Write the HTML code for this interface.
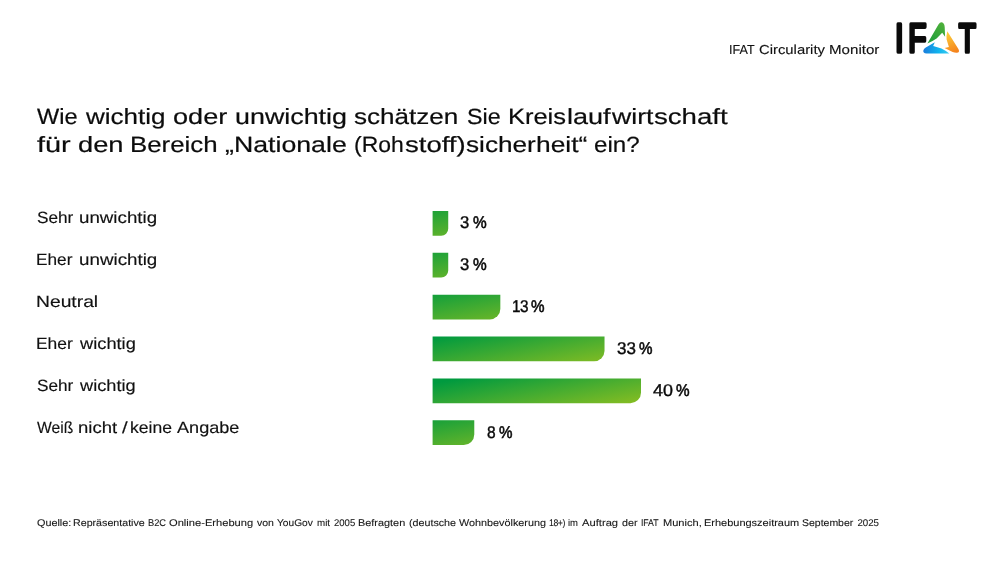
<!DOCTYPE html>
<html lang="de"><head><meta charset="utf-8"><title>IFAT Circularity Monitor</title>
<style>
html,body{margin:0;padding:0;background:#fff}
body{width:1000px;height:563px;position:relative;overflow:hidden;font-family:"Liberation Sans", sans-serif;color:#1a1a1a}
h1,p,header,footer,section,div{margin:0;padding:0;font-weight:400}
.line{display:block}
.t{position:absolute;top:var(--t);white-space:nowrap;line-height:1;display:block;transform-origin:0 0;text-rendering:geometricPrecision}
.title{font-size:22.0px;color:#0c0c0c;-webkit-text-stroke:0.2px #0c0c0c}
.lab{font-size:16.3px;color:#111;-webkit-text-stroke:0.15px #111}
.val{font-size:17.0px;color:#0a0a0a;-webkit-text-stroke:0.4px #0a0a0a}
.pc{-webkit-text-stroke-width:0.6px}
.hdr{font-size:13px;color:#111;-webkit-text-stroke:0.12px #111}
.foot{font-size:9.7px;color:#161616;-webkit-text-stroke:0.1px #161616}
svg{position:absolute;left:0;top:0}
</style></head><body>
<header>
<div class="line hdr" style="--t:43px"><span class="t" style="left:729.39px;transform:scaleX(0.9665)">IFAT</span> <span class="t" style="left:759.30px;transform:scaleX(1.1408)">Circularity</span> <span class="t" style="left:829.06px;transform:scaleX(1.1622)">Monitor</span></div>
<svg width="1000" height="563" viewBox="0 0 1000 563" role="img" aria-label="IFAT">
<g class="logo">
<defs>
<linearGradient id="lgG" gradientUnits="userSpaceOnUse" x1="929" y1="42" x2="944" y2="24"><stop offset="0" stop-color="#1f9e3c"/><stop offset="1" stop-color="#4fb03a"/></linearGradient>
<linearGradient id="lgO" gradientUnits="userSpaceOnUse" x1="947" y1="32" x2="956" y2="52"><stop offset="0" stop-color="#fcd23c"/><stop offset="1" stop-color="#f5821c"/></linearGradient>
<linearGradient id="lgB" gradientUnits="userSpaceOnUse" x1="924" y1="50" x2="948" y2="52"><stop offset="0" stop-color="#1a7fdc"/><stop offset="0.6" stop-color="#10b4ee"/><stop offset="1" stop-color="#35c8f0"/></linearGradient>
</defs>
<g font-family="'Liberation Sans', sans-serif" font-weight="400" font-size="100" fill="#0a0a0a" stroke="#0a0a0a" stroke-width="3.2" stroke-linejoin="round">
<text transform="translate(894.93 52.30) scale(0.3110 0.4084)" vector-effect="non-scaling-stroke">I</text>
<text transform="translate(908.15 52.30) scale(0.2987 0.4084)" vector-effect="non-scaling-stroke">F</text>
<text transform="translate(958.87 52.30) scale(0.2812 0.4084)" vector-effect="non-scaling-stroke">T</text>
</g>
<path fill="url(#lgG)" d="M927.4 43.4L938.6 24.2Q941 20.6 943.6 23.4Q944.6 24.6 944.7 27L945.1 36.8L942.2 32.8L936.6 38.6Q932.5 41.5 927.4 43.4Z"/>
<path fill="url(#lgO)" d="M947.3 31.2L958.4 48.9Q960.2 52.4 956.8 52.8Q954.8 52.9 952.6 52L944.6 48.1L948.9 46.9L946.6 39.6Q946.2 35.5 947.3 31.2Z"/>
<path fill="url(#lgB)" d="M949.3 53.5L926.6 53.5Q922.6 53.3 923.4 50.2Q923.9 48.6 925.8 47.4L934.8 42.2L933.2 46.1L941.5 48.4Q945.6 50.4 949.3 53.5Z"/>
</g>

</svg>
</header>
<h1>
<span class="line title" style="--t:106px"><span class="t" style="left:37.10px;transform:scaleX(1.0702)">Wie</span> <span class="t" style="left:86.14px;transform:scaleX(1.1812)">wichtig</span> <span class="t" style="left:172.96px;transform:scaleX(1.2325)">oder</span> <span class="t" style="left:235.26px;transform:scaleX(1.2209)">unwichtig</span> <span class="t" style="left:354.47px;transform:scaleX(1.1846)">schätzen</span> <span class="t" style="left:466.84px;transform:scaleX(1.0563)">Sie</span> <span class="t" style="left:508.01px;transform:scaleX(1.1573)">Kreis</span><span class="t" style="left:566.68px;transform:scaleX(1.2282)">lauf</span><span class="t" style="left:612.14px;transform:scaleX(1.2115)">wirt</span><span class="t" style="left:654.33px;transform:scaleX(1.2550)">schaft</span></span>
<span class="line title" style="--t:134px"><span class="t" style="left:36.79px;transform:scaleX(1.3114)">für</span> <span class="t" style="left:77.65px;transform:scaleX(1.2396)">den</span> <span class="t" style="left:130.08px;transform:scaleX(1.1743)">Bereich</span> <span class="t" style="left:225.12px;transform:scaleX(1.2142)">„Nationale</span> <span class="t" style="left:353.68px;transform:scaleX(1.0424)">(Roh</span><span class="t" style="left:405.33px;transform:scaleX(1.2506)">stoff)</span><span class="t" style="left:465.57px;transform:scaleX(1.1887)">sicher</span><span class="t" style="left:536.47px;transform:scaleX(1.1985)">heit“</span> <span class="t" style="left:594.27px;transform:scaleX(1.0968)">ein?</span></span>
</h1>
<section class="chart">
<svg width="1000" height="563" viewBox="0 0 1000 563">
<defs>
<linearGradient id="g0" gradientUnits="userSpaceOnUse" x1="435.58" y1="197.43" x2="447.24" y2="259.77"><stop offset="0" stop-color="#009a3f"/><stop offset="1" stop-color="#95c11f"/></linearGradient>
<linearGradient id="g1" gradientUnits="userSpaceOnUse" x1="435.58" y1="239.30" x2="447.24" y2="301.64"><stop offset="0" stop-color="#009a3f"/><stop offset="1" stop-color="#95c11f"/></linearGradient>
<linearGradient id="g2" gradientUnits="userSpaceOnUse" x1="461.63" y1="281.17" x2="473.29" y2="343.51"><stop offset="0" stop-color="#009a3f"/><stop offset="1" stop-color="#95c11f"/></linearGradient>
<linearGradient id="g3" gradientUnits="userSpaceOnUse" x1="513.73" y1="323.04" x2="525.39" y2="385.38"><stop offset="0" stop-color="#009a3f"/><stop offset="1" stop-color="#95c11f"/></linearGradient>
<linearGradient id="g4" gradientUnits="userSpaceOnUse" x1="531.96" y1="364.91" x2="543.62" y2="427.25"><stop offset="0" stop-color="#009a3f"/><stop offset="1" stop-color="#95c11f"/></linearGradient>
<linearGradient id="g5" gradientUnits="userSpaceOnUse" x1="448.60" y1="406.78" x2="460.26" y2="469.12"><stop offset="0" stop-color="#009a3f"/><stop offset="1" stop-color="#95c11f"/></linearGradient>
</defs>
<path fill="url(#g0)" d="M432.60 210.90H448.23V228.67A7.03 7.03 0 0 1 441.20 235.70H432.60Z"/>
<path fill="url(#g1)" d="M432.60 252.77H448.23V270.54A7.03 7.03 0 0 1 441.20 277.57H432.60Z"/>
<path fill="url(#g2)" d="M432.60 294.64H500.33V308.94A10.50 10.50 0 0 1 489.83 319.44H432.60Z"/>
<path fill="url(#g3)" d="M432.60 336.51H604.53V350.81A10.50 10.50 0 0 1 594.03 361.31H432.60Z"/>
<path fill="url(#g4)" d="M432.60 378.38H641.00V392.68A10.50 10.50 0 0 1 630.50 403.18H432.60Z"/>
<path fill="url(#g5)" d="M432.60 420.25H474.28V434.55A10.50 10.50 0 0 1 463.78 445.05H432.60Z"/>
</svg>
<div class="row">
<div class="line lab" style="--t:210px"><span class="t" style="left:36.52px;transform:scaleX(1.0570)">Sehr</span> <span class="t" style="left:78.58px;transform:scaleX(1.1508)">unwichtig</span></div>
<div class="line val" style="--t:214px"><span class="t" style="left:460.47px;transform:scaleX(0.9784)">3</span> <span class="t pc" style="left:472.65px;transform:scaleX(0.9056)">%</span></div>
</div>
<div class="row">
<div class="line lab" style="--t:252px"><span class="t" style="left:36.49px;transform:scaleX(1.0580)">Eher</span> <span class="t" style="left:78.78px;transform:scaleX(1.1538)">unwichtig</span></div>
<div class="line val" style="--t:256px"><span class="t" style="left:460.47px;transform:scaleX(0.9784)">3</span> <span class="t pc" style="left:472.65px;transform:scaleX(0.9056)">%</span></div>
</div>
<div class="row">
<div class="line lab" style="--t:294px"><span class="t" style="left:36.22px;transform:scaleX(1.1843)">Neutral</span></div>
<div class="line val" style="--t:298px"><span class="t" style="left:511.93px;letter-spacing:-0.435px;transform:scaleX(0.9000)">13</span> <span class="t pc" style="left:531.46px;transform:scaleX(0.8948)">%</span></div>
</div>
<div class="row">
<div class="line lab" style="--t:336px"><span class="t" style="left:36.37px;transform:scaleX(1.0702)">Eher</span> <span class="t" style="left:80.03px;transform:scaleX(1.1219)">wichtig</span></div>
<div class="line val" style="--t:340px"><span class="t" style="left:616.95px;">33</span> <span class="t pc" style="left:638.96px;transform:scaleX(0.8912)">%</span></div>
</div>
<div class="row">
<div class="line lab" style="--t:378px"><span class="t" style="left:36.52px;transform:scaleX(1.0570)">Sehr</span> <span class="t" style="left:79.63px;transform:scaleX(1.1178)">wichtig</span></div>
<div class="line val" style="--t:382px"><span class="t" style="left:653.49px;transform:scaleX(1.0522)">40</span> <span class="t pc" style="left:675.96px;transform:scaleX(0.8984)">%</span></div>
</div>
<div class="row">
<div class="line lab" style="--t:420px"><span class="t" style="left:37.23px;transform:scaleX(0.9631)">Weiß</span> <span class="t" style="left:77.97px;transform:scaleX(1.1354)">nicht</span> <span class="t" style="left:121.92px;transform:scaleX(1.2500)">/</span> <span class="t" style="left:130.32px;transform:scaleX(1.0777)">keine</span> <span class="t" style="left:177.06px;transform:scaleX(1.1122)">Angabe</span></div>
<div class="line val" style="--t:424px"><span class="t" style="left:486.73px;transform:scaleX(0.9135)">8</span> <span class="t pc" style="left:498.56px;transform:scaleX(0.8912)">%</span></div>
</div>
</section>
<footer>
<p class="line foot" style="--t:519px"><span class="t" style="left:36.59px;transform:scaleX(1.1172)">Quelle:</span> <span class="t" style="left:72.52px;transform:scaleX(1.1009)">Repräsentative</span> <span class="t" style="left:147.74px;transform:scaleX(0.9579)">B2C</span> <span class="t" style="left:169.17px;transform:scaleX(1.1488)">Online-Erhebung</span> <span class="t" style="left:256.56px;transform:scaleX(1.0827)">von</span> <span class="t" style="left:276.58px;transform:scaleX(1.0508)">YouGov</span> <span class="t" style="left:316.55px;transform:scaleX(1.0076)">mit</span> <span class="t" style="left:333.92px;transform:scaleX(0.9822)">2005</span> <span class="t" style="left:358.11px;transform:scaleX(1.1234)">Befragten</span> <span class="t" style="left:408.53px;transform:scaleX(1.1056)">(deutsche</span> <span class="t" style="left:459.30px;transform:scaleX(1.1158)">Wohnbevölkerung</span> <span class="t" style="left:548.79px;letter-spacing:-0.499px;transform:scaleX(0.9000)">18+)</span> <span class="t" style="left:568.07px;transform:scaleX(0.9781)">im</span> <span class="t" style="left:582.43px;transform:scaleX(1.1556)">Auftrag</span> <span class="t" style="left:621.65px;transform:scaleX(1.1080)">der</span> <span class="t" style="left:640.84px;letter-spacing:-0.113px;transform:scaleX(0.9000)">IFAT</span> <span class="t" style="left:662.74px;transform:scaleX(1.1409)">Munich,</span> <span class="t" style="left:703.90px;transform:scaleX(1.1334)">Erhebungszeitraum</span> <span class="t" style="left:802.42px;transform:scaleX(1.0814)">September</span> <span class="t" style="left:857.46px;">2025</span></p>
</footer>
</body></html>
